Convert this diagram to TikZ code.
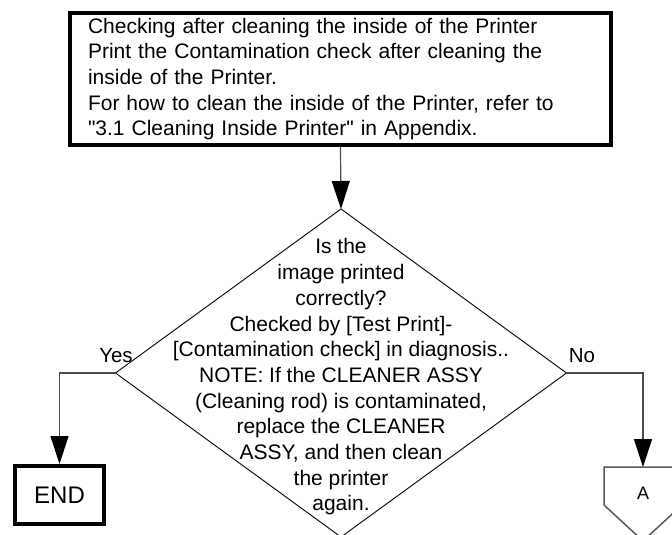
\documentclass[tikz,border=0pt]{standalone}
\usepackage{fontspec}
\setmainfont{Liberation Sans}
\usetikzlibrary{shapes.geometric,arrows.meta}
\newcommand\straightquote{\XeTeXglyph\XeTeXcharglyph"22\relax}
\begin{document}
\begin{tikzpicture}[x=1pt,y=1pt,
  txt/.style={font=\fontsize{21}{25.7}\selectfont},
  thickbox/.style={draw=black, line width=4pt, rectangle, inner sep=0pt},
  decision/.style={draw=black, line width=0.9pt, diamond, minimum width=451pt, minimum height=328pt, inner sep=0pt, outer sep=0pt},
  conn/.style={draw=black!70, line width=1.2pt, -{Triangle[length=28pt,width=18pt,black]}},
  offpage/.style={draw=black!65, line width=1.5pt},
]
\useasboundingbox (0,0) rectangle (672,-535);
\clip (0,0) rectangle (672,-535);

\node[thickbox, minimum width=541pt, minimum height=132pt, text width=505pt, align=left, inner xsep=18pt, txt] (box) at (340.5,-79)
{Checking after cleaning the inside of the Printer\\
Print the Contamination check after cleaning the\\
inside of the Printer.\\
For how to clean the inside of the Printer, refer to\\
\straightquote3.1 Cleaning Inside Printer\straightquote{} in Appendix.};

\node[decision] (dec) at (341,-373) {};
\node[txt, align=center] (dtext) at (341,-377)
{Is the\\
image printed\\
correctly?\\
Checked by {[}Test Print{]}-\\
{[}Contamination check{]} in diagnosis..\\
NOTE: If the CLEANER ASSY\\
(Cleaning rod) is contaminated,\\
replace the CLEANER\\
ASSY, and then clean\\
the printer\\
again.};

\node[thickbox, minimum width=89pt, minimum height=58pt, font=\fontsize{24}{28}\selectfont] (end) at (59.5,-495) {END};

\coordinate (Atop) at (643,-467);
\coordinate (Atl) at (604,-467);
\coordinate (Atr) at (682,-467);
\coordinate (Abr) at (682,-505);
\coordinate (Abl) at (604,-505);
\coordinate (Atip) at (643,-541);
\draw[offpage] (Atl) -- (Atr) -- (Abr) -- (Atip) -- (Abl) -- cycle;
\node[font=\fontsize{18}{20}\selectfont] (A) at (643,-493) {A};

\node[font=\fontsize{20.5}{24}\selectfont] (yes) at (116,-356) {Yes};
\node[font=\fontsize{20.5}{24}\selectfont] (no) at (582,-356) {No};

\draw[conn] (box.south) -- (dec.north);
\draw[conn] (dec.west) -| (end.north);
\draw[conn] (dec.east) -| (Atop);
\end{tikzpicture}
\end{document}
